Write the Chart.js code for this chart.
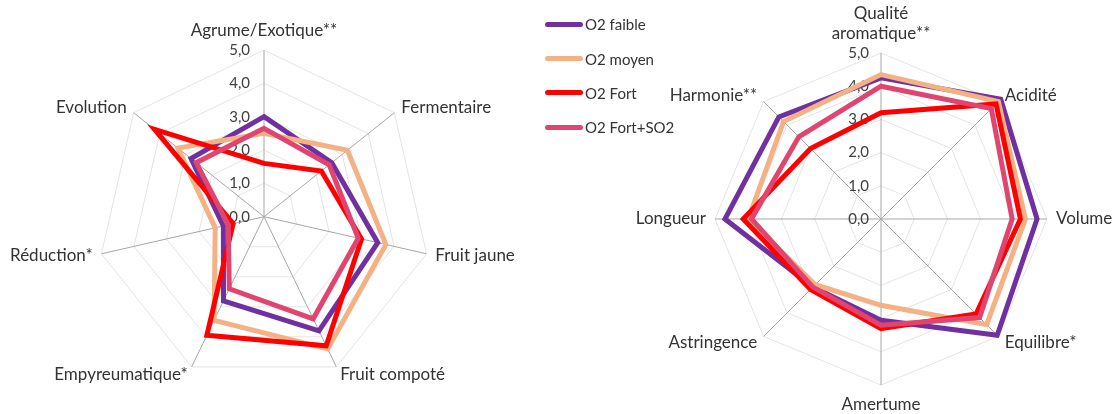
<!DOCTYPE html>
<html>
<head>
<meta charset="utf-8">
<script src="https://cdn.jsdelivr.net/npm/chart.js@4.4.1/dist/chart.umd.min.js"></script>
<style>
html,body{margin:0;padding:0;background:#fff;}
#wrap{position:relative;width:1113px;height:414px;overflow:hidden;font-family:Lato,"Open Sans",sans-serif;}
#wrap canvas{position:absolute;left:0;top:0;}
#legend{position:absolute;left:545px;top:7px;}
.lg-item{display:flex;align-items:center;height:34.4px;}
.lg-line{width:38px;height:5px;border-radius:3px;}
.lg-text{margin-left:2px;font-size:15px;color:#333333;}
</style>
</head>
<body>
<div id="wrap">
  <canvas id="c1" width="1113" height="414"></canvas>
  <canvas id="c2" width="1113" height="414"></canvas>
  <div id="legend"></div>
</div>
<script>
// ---------- DATA ----------
const seriesNames = ['O2 faible', 'O2 moyen', 'O2 Fort', 'O2 Fort+SO2'];
const tickLabels = ['0,0', '1,0', '2,0', '3,0', '4,0', '5,0'];

// Left chart (aroma)
const aromaCategories = ['Agrume/Exotique**', 'Fermentaire', 'Fruit jaune', 'Fruit compoté', 'Empyreumatique*', 'Réduction*', 'Evolution'];
const aromaFaible  = [3.0, 2.6, 3.5, 3.8, 2.8, 1.25, 2.8];
const aromaMoyen   = [2.5, 3.2, 3.75, 4.4, 3.45, 1.5, 3.3];
const aromaFort    = [1.6, 2.2, 3.0, 4.3, 3.95, 0.95, 4.2];
const aromaFortSO2 = [2.65, 2.5, 2.9, 3.4, 2.4, 1.1, 2.6];

// Right chart (taste)
const tasteCategories = [['Qualité', 'aromatique**'], 'Acidité', 'Volume', 'Equilibre*', 'Amertume', 'Astringence', 'Longueur', 'Harmonie**'];
const tasteFaible  = [4.25, 5.1, 4.7, 4.95, 3.05, 2.9, 4.7, 4.35];
const tasteMoyen   = [4.35, 5.0, 4.35, 4.5, 2.6, 2.8, 4.0, 4.15];
const tasteFort    = [3.2, 4.9, 4.2, 4.05, 3.3, 3.0, 4.15, 3.0];
const tasteFortSO2 = [4.0, 4.7, 3.95, 4.2, 3.2, 2.9, 3.9, 3.5];

// ---------- STYLE ----------
const seriesColors = ['#7030A0', '#F4B183', '#FF0000', '#E0456F'];
const textColor = '#333333';
const FONT = 'Lato';

// ---------- custom radial scale: fixed centre/radius, Excel-like labels ----------
class FixedRadialScale extends Chart.RadialLinearScale {
  static id = 'fixedRadial';
  setCenterPoint(l, r, t, b) {
    const g = this.options.geometry;
    if (g) {
      this.xCenter = g[0];
      this.yCenter = g[1];
      this.drawingArea = g[2];
    } else {
      super.setCenterPoint(l, r, t, b);
    }
  }
  fit() {
    super.fit();
    const items = this._pointLabelItems || [];
    const gap = this.options.labelGap || 9;
    items.forEach((it, i) => {
      const h = it.bottom - it.top;
      const w = it.right - it.left;
      const p = this.getPointPosition(i, this.drawingArea + gap);
      it.x = p.x;
      if (it.textAlign === 'center') {
        it.y = p.y < this.yCenter ? p.y - h : p.y;
      } else {
        it.y = p.y - h / 2;
      }
      it.top = it.y;
      it.bottom = it.y + h;
      it.left = it.textAlign === 'left' ? p.x : (it.textAlign === 'right' ? p.x - w : p.x - w / 2);
      it.right = it.left + w;
    });
  }
  drawLabels() {
    const opts = this.options.ticks;
    if (!opts.display) return;
    const ctx = this.ctx;
    const font = Chart.helpers.toFont(opts.font);
    ctx.save();
    ctx.font = font.string;
    ctx.fillStyle = opts.color;
    ctx.textAlign = 'right';
    ctx.textBaseline = 'middle';
    const gap = this.options.tickGap || 13;
    this.ticks.forEach(t => {
      const d = this.getDistanceFromCenterForValue(t.value);
      ctx.fillText(t.label, this.xCenter - gap, this.yCenter - d);
    });
    ctx.restore();
  }
}
Chart.register(FixedRadialScale);

function makeDatasets(arrays) {
  return arrays.map((vals, i) => ({
    label: seriesNames[i],
    data: vals,
    borderColor: seriesColors[i],
    backgroundColor: seriesColors[i],
    borderWidth: 5,
    pointRadius: 0,
    pointHoverRadius: 0,
    fill: false,
    tension: 0,
    order: arrays.length - 1 - i
  }));
}

function makeChart(id, labels, arrays, geometry, tickGap) {
  return new Chart(document.getElementById(id), {
    type: 'radar',
    data: { labels: labels, datasets: makeDatasets(arrays) },
    options: {
      responsive: false,
      animation: false,
      events: [],
      layout: { padding: 0 },
      plugins: { legend: { display: false }, tooltip: { enabled: false } },
      elements: { line: { borderJoinStyle: 'miter' } },
      scales: {
        r: {
          type: 'fixedRadial',
          geometry: geometry,
          labelGap: 9,
          tickGap: tickGap,
          min: 0,
          max: 5,
          ticks: {
            stepSize: 1,
            color: '#404040',
            font: { family: FONT, size: 15 },
            backdropPadding: 0,
            showLabelBackdrop: false,
            callback: (v, i) => tickLabels[i]
          },
          grid: { color: '#E4E4E4', lineWidth: 1 },
          angleLines: { color: '#A6A6A6', lineWidth: 1 },
          pointLabels: {
            color: textColor,
            font: { family: FONT, size: 17 },
            padding: 1
          }
        }
      }
    }
  });
}

makeChart('c1', aromaCategories, [aromaFaible, aromaMoyen, aromaFort, aromaFortSO2], [264, 216.7, 166.7], 14);
makeChart('c2', tasteCategories, [tasteFaible, tasteMoyen, tasteFort, tasteFortSO2], [881, 219, 166], 12);

// HTML legend
const lg = document.getElementById('legend');
seriesNames.forEach((n, i) => {
  const row = document.createElement('div');
  row.className = 'lg-item';
  const ln = document.createElement('div');
  ln.className = 'lg-line';
  ln.style.background = seriesColors[i];
  const tx = document.createElement('span');
  tx.className = 'lg-text';
  tx.textContent = n;
  row.appendChild(ln);
  row.appendChild(tx);
  lg.appendChild(row);
});
</script>
</body>
</html>
